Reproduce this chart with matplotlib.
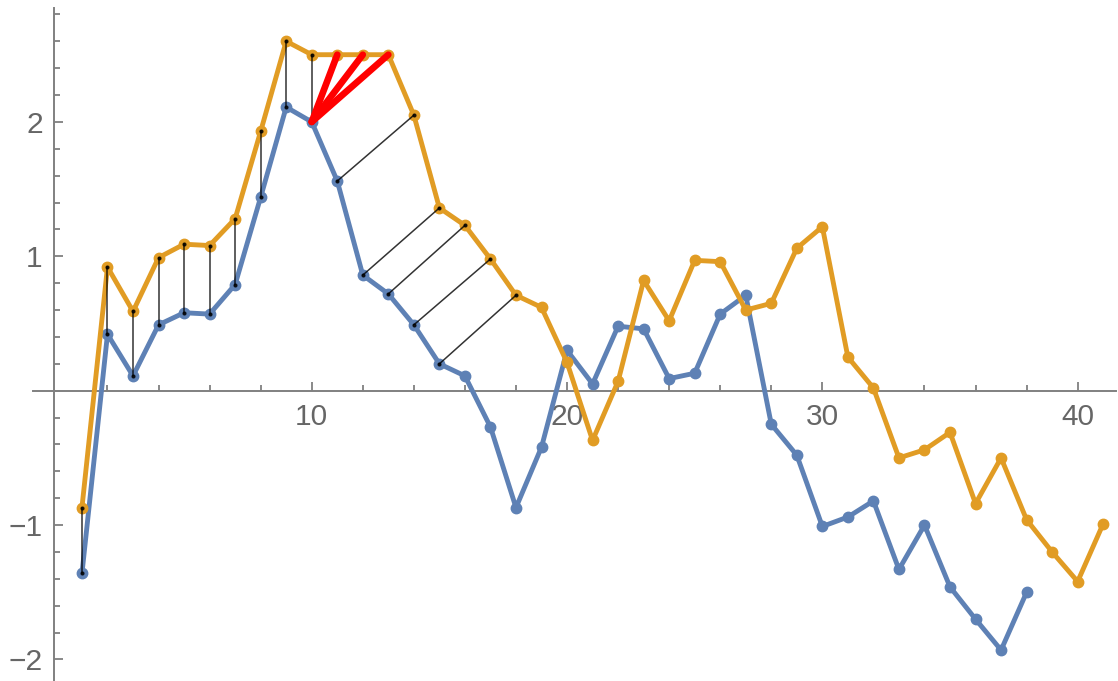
import numpy as np
import matplotlib
matplotlib.use("Agg")
import matplotlib.pyplot as plt
from matplotlib.ticker import FixedLocator, FixedFormatter

# two series, the second one longer
blue = [-1.36, 0.42, 0.11, 0.49, 0.58, 0.57, 0.79, 1.44, 2.11, 2.00,
        1.56, 0.86, 0.72, 0.49, 0.20, 0.11, -0.27, -0.87, -0.42, 0.30,
        0.05, 0.48, 0.46, 0.09, 0.13, 0.57, 0.71, -0.25, -0.48, -1.01,
        -0.94, -0.82, -1.33, -1.00, -1.46, -1.70, -1.93, -1.50]
orange = [-0.87, 0.92, 0.59, 0.99, 1.09, 1.08, 1.28, 1.93, 2.60, 2.50,
          2.50, 2.50, 2.50, 2.05, 1.36, 1.23, 0.98, 0.71, 0.62, 0.21,
          -0.37, 0.07, 0.82, 0.52, 0.97, 0.96, 0.60, 0.65, 1.06, 1.22,
          0.25, 0.02, -0.50, -0.44, -0.31, -0.84, -0.50, -0.96, -1.20, -1.42,
          -0.99]

# warping path pairs (1-based index into blue, index into orange)
path_blue = [1, 2, 3, 4, 5, 6, 7, 8, 9, 10, 10, 10, 10, 11, 12, 13, 14, 15]
path_orange = [1, 2, 3, 4, 5, 6, 7, 8, 9, 10, 11, 12, 13, 14, 15, 16, 17, 18]
# pairs where one blue point maps to several orange points
fan_pairs = [(10, 11), (10, 12), (10, 13)]

x_major = [10, 20, 30, 40]
y_major = [-2, -1, 1, 2]
y_labels = ["\u22122", "\u22121", "1", "2"]

BLUE = "#5E81B5"
ORANGE = "#E19C24"
AXIS = "#808080"
TEXT = "#666666"

plt.rcParams['font.family'] = ['Liberation Sans', 'DejaVu Sans']

fig = plt.figure(figsize=(11.18, 6.81), dpi=100)
ax = fig.add_axes([0, 0, 1, 1])
ax.set_xlim(-2.21, 41.58)
ax.set_ylim(-2.16, 2.907)

xb = np.arange(1, len(blue) + 1)
xo = np.arange(1, len(orange) + 1)
ax.plot(xb, blue, color=BLUE, lw=3.5, marker='o', ms=7.5, zorder=3,
        solid_joinstyle='round')
ax.plot(xo, orange, color=ORANGE, lw=3.5, marker='o', ms=7.5, zorder=4,
        solid_joinstyle='round')

for i, j in zip(path_blue, path_orange):
    xs = [i, j]
    ys = [blue[i - 1], orange[j - 1]]
    if (i, j) in fan_pairs:
        ax.plot(xs, ys, color='red', lw=4.8, solid_capstyle='round', zorder=6)
    else:
        ax.plot(xs, ys, color='black', lw=1.1, marker='o', ms=2.0,
                alpha=0.8, zorder=5)

# axes crossing near the origin
for side in ('top', 'right'):
    ax.spines[side].set_visible(False)
ax.spines['left'].set_position(('data', -0.1))
ax.spines['bottom'].set_position(('data', 0))
ax.spines['left'].set_bounds(-2.2, 2.85)
ax.spines['bottom'].set_bounds(-0.92, 41.5)
for side in ('left', 'bottom'):
    ax.spines[side].set_color(AXIS)
    ax.spines[side].set_linewidth(1.4)

ax.xaxis.set_major_locator(FixedLocator(x_major))
ax.xaxis.set_minor_locator(FixedLocator(np.arange(2, 42, 2)))
ax.yaxis.set_major_locator(FixedLocator(y_major))
ax.yaxis.set_major_formatter(FixedFormatter(y_labels))
ax.yaxis.set_minor_locator(FixedLocator(np.round(np.arange(-2.0, 2.81, 0.2), 1)))

ax.tick_params(which='both', direction='in', color=AXIS, width=1.3,
               labelcolor=TEXT, labelsize=21.5)
ax.tick_params(which='major', length=6.5)
ax.tick_params(which='minor', length=4.3)
ax.tick_params(axis='x', which='major', pad=9)
ax.tick_params(axis='y', which='major', pad=8)

fig.savefig("out.png", dpi=100)
